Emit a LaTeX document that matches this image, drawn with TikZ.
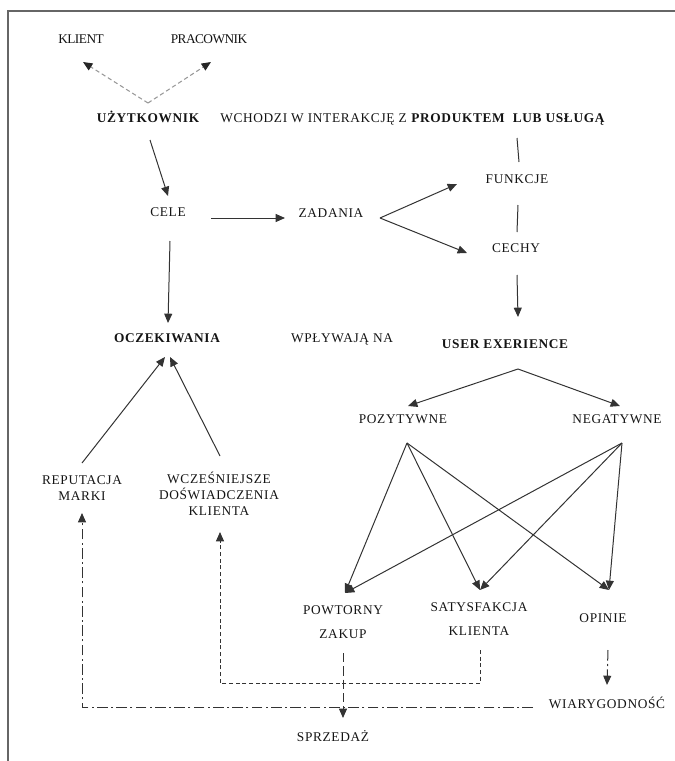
\documentclass[tikz,border=0pt]{standalone}
\usepackage{fontspec}
\setmainfont{Liberation Serif}
\newfontfamily\spfont{Liberation Serif}[LetterSpace=5]
\newfontfamily\tightfont{Liberation Serif}[LetterSpace=-4]
\usetikzlibrary{arrows.meta}
\begin{document}
\begin{tikzpicture}[x=0.75pt,y=-0.75pt,
  txt/.style={inner sep=0pt, text=black!92, font=\spfont\fontsize{10}{12}\selectfont},
  one/.style={txt, text height=6.6pt, text depth=0pt},
  plain/.style={one, font=\tightfont\fontsize{10}{12}\selectfont},
  ln/.style={draw=black!80, line width=0.75pt},
  tip/.style={-{Triangle[length=7pt,width=6pt]}},
  arr/.style={ln, tip},
  gd/.style={draw=black!40, line width=0.8pt, dash pattern=on 3.2pt off 2.2pt, -{Triangle[length=7pt,width=6pt,color=black!85]}},
  sd/.style={ln, dash pattern=on 3pt off 2pt},
  ld/.style={ln, dash pattern=on 7pt off 3pt},
  dd/.style={ln, dash pattern=on 8pt off 2.5pt on 1.5pt off 2.5pt}
  ]
\useasboundingbox (0,0) rectangle (675,761);
\draw[draw=black!60, line width=1.4pt] (8,761) -- (8,11) -- (675,11);

% nodes
\node[plain] (klient) at (81,39) {KLIENT};
\node[plain] (prac) at (209,39) {PRACOWNIK};
\node[one] (uzyt) at (148,118) {\bfseries UŻYTKOWNIK};
\node[one, anchor=west] (wch) at (220,118) {WCHODZI W INTERAKCJĘ Z \textbf{PRODUKTEM\ \ LUB USŁUGĄ}};
\node[one] (funk) at (517,179) {FUNKCJE};
\node[one] (cele) at (168,212) {CELE};
\node[one] (zad) at (331,213) {ZADANIA};
\node[one] (cechy) at (516,248) {CECHY};
\node[one] (oczek) at (167,338) {\bfseries OCZEKIWANIA};
\node[one] (wplyw) at (342,338) {WPŁYWAJĄ NA};
\node[one] (ux) at (505,344) {\bfseries USER EXERIENCE};
\node[one] (poz) at (403,419) {POZYTYWNE};
\node[one] (neg) at (617,419) {NEGATYWNE};
\node[txt, align=center] (rep) at (82,488) {REPUTACJA\\MARKI};
\node[txt, align=center] (wcz) at (219,494) {WCZEŚNIEJSZE\\DOŚWIADCZENIA\\KLIENTA};
\node[txt, align=center] (powt) at (343,622) {POWTORNY\\[6pt]ZAKUP};
\node[txt, align=center] (saty) at (479,619) {SATYSFAKCJA\\[6pt]KLIENTA};
\node[one] (opinie) at (603,618) {OPINIE};
\node[one] (wiary) at (607,704) {WIARYGODNOŚĆ};
\node[one] (sprz) at (333,737) {SPRZEDAŻ};

% connector points
\coordinate (uzTop) at (148,103);
\coordinate (klientIn) at (83,62);
\coordinate (pracIn) at (211,62);
\coordinate (uzytOut) at (150,140);
\coordinate (celeIn) at (168,196);
\coordinate (celeE) at (211,218);
\coordinate (zadW) at (285,218);
\coordinate (zadE) at (380,218);
\coordinate (funkIn) at (457,184);
\coordinate (cechyIn) at (467,253);
\coordinate (wchS) at (517,138);
\coordinate (funkN) at (519,162);
\coordinate (funkS) at (518,205);
\coordinate (cechyN) at (517,232);
\coordinate (cechyS) at (517,275);
\coordinate (uxN) at (518,317);
\coordinate (celeS) at (170,241);
\coordinate (oczekN) at (168,323);
\coordinate (uxS) at (518,369);
\coordinate (pozIn) at (408,406);
\coordinate (negIn) at (620,406);
\coordinate (pozS) at (407,443);
\coordinate (negS) at (622,443);
\coordinate (powtIn) at (345,593);
\coordinate (satyIn) at (480,590);
\coordinate (opinieIn) at (609,590);
\coordinate (repN) at (82,463);
\coordinate (wczN) at (220,456);
\coordinate (oczekL) at (165,357);
\coordinate (oczekR) at (170,357);
\coordinate (satyS) at (480,650);
\coordinate (c1) at (480,683);
\coordinate (c2) at (220,683);
\coordinate (wczIn) at (220,532);
\coordinate (wiaryW) at (533,707);
\coordinate (c3) at (82,707);
\coordinate (repIn) at (82,513);
\coordinate (powtS) at (343,653);
\coordinate (sprzIn) at (343,718);
\coordinate (opinieS) at (608,650);
\coordinate (wiaryIn) at (607,685);

% connectors
\draw[gd] (uzTop) -- (klientIn);
\draw[gd] (uzTop) -- (pracIn);
\draw[arr] (uzytOut) -- (celeIn);
\draw[arr] (celeE) -- (zadW);
\draw[arr] (zadE) -- (funkIn);
\draw[arr] (zadE) -- (cechyIn);
\draw[ln] (wchS) -- (funkN);
\draw[ln] (funkS) -- (cechyN);
\draw[arr] (cechyS) -- (uxN);
\draw[arr] (celeS) -- (oczekN);
\draw[arr] (uxS) -- (pozIn);
\draw[arr] (uxS) -- (negIn);
\draw[arr] (pozS) -- (powtIn);
\draw[arr] (pozS) -- (satyIn);
\draw[arr] (pozS) -- (opinieIn);
\draw[arr] (negS) -- (powtIn);
\draw[arr] (negS) -- (satyIn);
\draw[arr] (negS) -- (opinieIn);
\draw[arr] (repN) -- (oczekL);
\draw[arr] (wczN) -- (oczekR);
\draw[sd, tip] (satyS) -- (c1) -- (c2) -- (wczIn);
\draw[dd, tip] (wiaryW) -- (c3) -- (repIn);
\draw[ld, tip] (powtS) -- (sprzIn);
\draw[dd, tip] (opinieS) -- (wiaryIn);
\end{tikzpicture}
\end{document}
